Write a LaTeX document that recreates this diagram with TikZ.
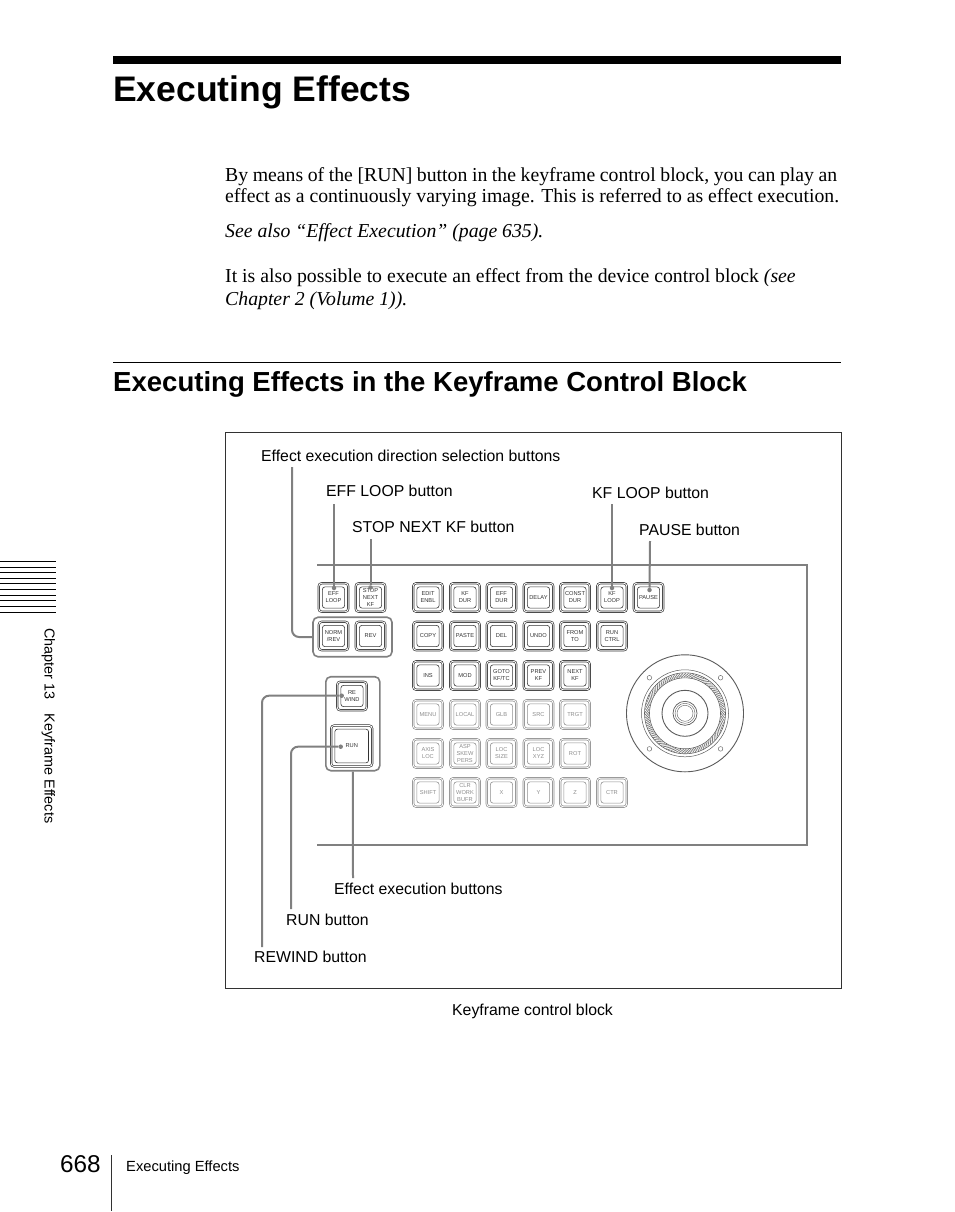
\documentclass[tikz,border=0pt]{standalone}
\usepackage{fontspec}
\setmainfont{Liberation Serif}
\setsansfont{Liberation Sans}
\usetikzlibrary{calc}
\definecolor{leadgray}{RGB}{128,128,128}
\definecolor{keydark}{RGB}{50,50,50}
\definecolor{keyoff}{RGB}{140,140,140}
\tikzset{
	bodytext/.style={anchor=base west, inner sep=0pt, font=\fontsize{19.75}{22}\selectfont},
	labeltext/.style={anchor=base west, inner sep=0pt, font=\sffamily\fontsize{15.8}{18}\selectfont},
	leader/.style={draw=leadgray, line width=2pt},
	leaddot/.style={circle, fill=leadgray, inner sep=0pt, minimum size=4.5pt},
	keybase/.style={draw=#1, text=#1, double, double distance=0.9pt, line width=0.65pt, rounded corners=3pt,
		minimum width=29.5pt, minimum height=28.5pt, inner sep=0pt, align=center,
		font=\sffamily\fontsize{5.7}{7}\selectfont,
		append after command={\pgfextra{\let\keylast\tikzlastnode
			\draw[#1, line width=0.6pt, rounded corners=2.5pt]
			($(\keylast.north west)+(4pt,-4pt)$) rectangle ($(\keylast.south east)+(-4pt,4pt)$);}}},
	keyon/.style={keybase=keydark},
	keydim/.style={keybase=keyoff},
	keygroup/.style={draw=leadgray, line width=1.6pt, rounded corners=5pt, inner sep=0pt},
}

\begin{document}
\begin{tikzpicture}[x=1pt, y=-1pt]
\useasboundingbox (0,0) rectangle (954,1212);

% Seitenkopf
\fill[black] (113,56) rectangle (841,64.5);
\node[anchor=base west, inner sep=0pt, font=\sffamily\bfseries\fontsize{35.5}{40}\selectfont] (title) at (113,102) {Executing Effects};

\node[bodytext] (body1) at (225,181) {\hbox to 612pt{By means of the [RUN] button in the keyframe control block, you can play an}};
\node[bodytext] (body2) at (225,202) {\hbox to 614pt{effect as a continuously varying image. This is referred to as effect execution.}};
\node[bodytext] (body3) at (225,237) {\itshape See also “Effect Execution” (page 635).};
\node[bodytext] (body4) at (225,282) {It is also possible to execute an effect from the device control block \itshape(see};
\node[bodytext] (body5) at (225,305) {\itshape Chapter 2 (Volume 1)).};

\draw[black, line width=0.8pt] (113,362.5) -- (841,362.5);
\node[anchor=base west, inner sep=0pt, font=\sffamily\bfseries\fontsize{27.55}{30}\selectfont] (heading) at (113,391) {Executing Effects in the Keyframe Control Block};

% Rahmen
\draw[keydark, line width=0.9pt] (225,432) rectangle (841.5,988.5);
\draw[leadgray, line width=2pt] (317,564.5) -- (807,564.5) -- (807,845) -- (317,845);

% Tasten
\foreach \nm/\px/\py/\txt in {effloop/333.5/597.5/{EFF\\LOOP}, stopnext/370.5/597.5/{STOP\\NEXT\\KF},
	editenbl/428/597.5/{EDIT\\ENBL}, kfdur/465/597.5/{KF\\DUR}, effdur/501.5/597.5/{EFF\\DUR},
	delay/538.5/597.5/DELAY, constdur/575/597.5/{CONST\\DUR}, kfloop/612/597.5/{KF\\LOOP}, pause/648.5/597.5/PAUSE,
	normrev/333.5/636/{NORM\\/REV}, rev/370.5/636/REV,
	copy/428/636/COPY, paste/465/636/PASTE, del/501.5/636/DEL, undo/538.5/636/UNDO, fromto/575/636/{FROM\\TO}, runctrl/612/636/{RUN\\CTRL},
	ins/428/675.5/INS, mod/465/675.5/MOD, goto/501.5/675.5/{GOTO\\KF/TC}, prevkf/538.5/675.5/{PREV\\KF}, nextkf/575/675.5/{NEXT\\KF},
	rewind/352/696/{RE\\WIND}} {
	\node[keyon] (\nm) at (\px,\py) {\txt};
}
\node[keyon, minimum width=41pt, minimum height=41pt] (run) at (351.7,746) {RUN};

\foreach \nm/\px/\py/\txt in {menu/428/714.5/MENU, local/465/714.5/LOCAL, glb/501.5/714.5/GLB, src/538.5/714.5/SRC, trgt/575/714.5/TRGT,
	axisloc/428/753.5/{AXIS\\LOC}, aspskew/465/753.5/{ASP\\SKEW\\PERS}, locsize/501.5/753.5/{LOC\\SIZE}, locxyz/538.5/753.5/{LOC\\XYZ}, rot/575/753.5/ROT,
	shift/428/792.5/SHIFT, clrwork/465/792.5/{CLR\\WORK\\BUFR}, keyx/501.5/792.5/X, keyy/538.5/792.5/Y, keyz/575/792.5/Z, ctr/612/792.5/CTR} {
	\node[keydim] (\nm) at (\px,\py) {\txt};
}

\node[keygroup, minimum width=79pt, minimum height=39.5pt] (dirgroup) at (352.5,637) {};
\node[keygroup, minimum width=54pt, minimum height=94pt] (execgroup) at (352.8,723.7) {};

% Jogwheel
\begin{scope}[shift={(685,713.3)}]
\draw[keydark!80, line width=0.9pt] (0,0) circle (58.5pt);
\draw[keydark!80, line width=0.5pt] (0,0) circle (43.5pt);
\draw[keydark!80, line width=0.6pt] (0,0) circle (40.5pt);
\draw[keydark!80, line width=0.6pt] (0,0) circle (35.5pt);
\foreach \a in {0,4,...,356} {
	\draw[leadgray, line width=0.8pt] (\a:36) -- (\a+7:40);
}
\draw[keydark!80, line width=0.9pt] (0,0) circle (23pt);
\draw[keydark!80, line width=0.7pt] (0,0) circle (12pt);
\draw[keydark!80, line width=0.4pt] (0,0) circle (10pt);
\draw[keydark!80, line width=0.4pt] (0,0) circle (8pt);
\foreach \a in {45,135,225,315} {
	\draw[keydark!70, line width=0.5pt] (\a:50.3) circle (2.3pt);
}
\end{scope}

% Beschriftungen
\node[labeltext] (dirlabel) at (261,461) {Effect execution direction selection buttons};
\node[labeltext] (efflabel) at (326,496) {EFF LOOP button};
\node[labeltext] (stoplabel) at (352,532) {STOP NEXT KF button};
\node[labeltext] (kflabel) at (592,498) {KF LOOP button};
\node[labeltext] (pauselabel) at (639,535) {PAUSE button};
\node[labeltext] (execlabel) at (334,894) {Effect execution buttons};
\node[labeltext] (runlabel) at (286,925) {RUN button};
\node[labeltext] (rewlabel) at (254,962) {REWIND button};
\node[labeltext] (blocklabel) at (452,1015) {Keyframe control block};

% Fuehrungslinien
\coordinate (dirtop) at (292,467);
\coordinate (efftop) at (334,504);
\coordinate (stoptop) at (370.5,539);
\coordinate (kftop) at (612,504);
\coordinate (pausetop) at (650,541);
\coordinate (execbot) at (353,878);
\coordinate (runbot) at (291,909);
\coordinate (rewbot) at (262,947);

\node[leaddot] (effdot) at (334,588) {};
\node[leaddot] (stopdot) at (370.5,587.5) {};
\node[leaddot] (kfdot) at (612,588) {};
\node[leaddot] (pausedot) at (649.5,590) {};
\node[leaddot] (rewdot) at (341.7,695.7) {};
\node[leaddot] (rundot) at (340.7,746.7) {};

\draw[leader, rounded corners=7pt] (dirtop) |- (dirgroup.west);
\draw[leader] (efftop) -- (effdot);
\draw[leader] (stoptop) -- (stopdot);
\draw[leader] (kftop) -- (kfdot);
\draw[leader] (pausetop) -- (pausedot);
\draw[leader] (execgroup.south) -- (execbot);
\draw[leader, rounded corners=7pt] (rundot) -| (runbot);
\draw[leader, rounded corners=7pt] (rewdot) -| (rewbot);

% Randmarken
\foreach \ty in {561.7,567.3,572.7,578.3,583.7,589.3,595,600.7,606.3,612} {
	\draw[black, line width=1pt] (0,\ty) -- (56,\ty);
}
\node[rotate=-90, anchor=base west, inner sep=0pt, font=\sffamily\fontsize{14.4}{16}\selectfont] (chapter) at (44.5,628) {Chapter 13\hspace{1em}Keyframe Effects};

% Seitenfuss
\node[anchor=base west, inner sep=0pt, font=\sffamily\fontsize{24.3}{26}\selectfont] (pageno) at (60,1172) {668};
\draw[keydark, line width=1pt] (111.5,1155) -- (111.5,1211);
\node[anchor=base west, inner sep=0pt, font=\sffamily\fontsize{14.7}{17}\selectfont] (footer) at (126,1171) {Executing Effects};

\end{tikzpicture}
\end{document}
